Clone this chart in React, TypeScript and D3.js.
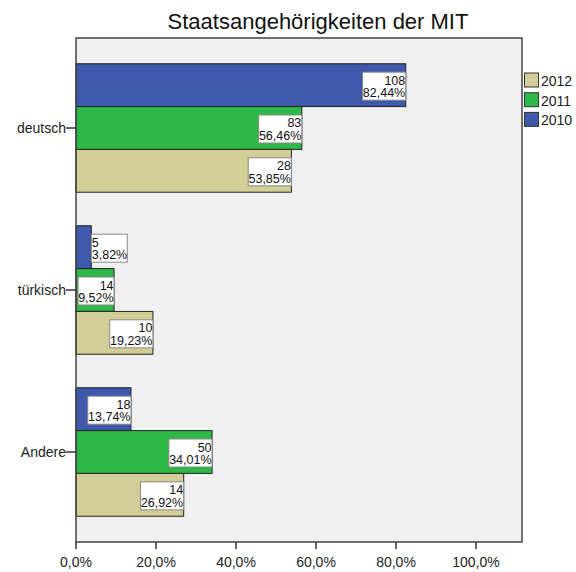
import { useEffect, useRef } from "react";
import * as d3 from "d3";

// Kategorien (von oben nach unten) und Jahre (Reihenfolge im Balkenbündel)
const categories = ["deutsch", "türkisch", "Andere"];
const years = ["2010", "2011", "2012"];
const legendYears = ["2012", "2011", "2010"];
const yearColors: Record<string, string> = { "2010": "#3e58ac", "2011": "#2eb848", "2012": "#d3ce97" };

// Anteile in % und Anzahlen je Jahr
const pct2010 = [82.44, 3.82, 13.74];
const pct2011 = [56.46, 9.52, 34.01];
const pct2012 = [53.85, 19.23, 26.92];
const count2010 = [108, 5, 18];
const count2011 = [83, 14, 50];
const count2012 = [28, 10, 14];
const xTicks = [0, 20, 40, 60, 80, 100];

const pctByYear: Record<string, number[]> = { "2010": pct2010, "2011": pct2011, "2012": pct2012 };
const countByYear: Record<string, number[]> = { "2010": count2010, "2011": count2011, "2012": count2012 };

const W = 576;
const H = 572;
const FONT = "Arial, 'Liberation Sans', sans-serif";

export default function App() {
  const svgRef = useRef<SVGSVGElement | null>(null);

  useEffect(() => {
    if (!svgRef.current) return;
    const svg = d3.select(svgRef.current);
    svg.selectAll("*").remove();

    const left = 76, right = 522, top = 38, bottom = 542;

    const x = d3.scaleLinear().domain([0, 111.5]).range([left, right]);
    const y = d3.scaleBand<string>().domain(categories).range([top, bottom])
      .paddingInner(0.207).paddingOuter(0.159);
    const yInner = d3.scaleBand<string>().domain(years).range([0, y.bandwidth()]);

    // Titel
    svg.append("text")
      .attr("x", 318).attr("y", 29)
      .attr("text-anchor", "middle")
      .style("font-family", FONT).style("font-size", "22px").style("fill", "#111")
      .text("Staatsangehörigkeiten der MIT");

    // Hintergrund
    svg.append("rect")
      .attr("x", left).attr("y", top)
      .attr("width", right - left).attr("height", bottom - top)
      .attr("fill", "#f0f0f0");

    const defs = svg.append("defs");

    // Balken
    categories.forEach((cat, ci) => {
      years.forEach(yr => {
        const v = pctByYear[yr][ci];
        const by = (y(cat) || 0) + (yInner(yr) || 0);
        const bh = yInner.bandwidth();
        svg.append("rect")
          .attr("x", x(0)).attr("y", by)
          .attr("width", x(v) - x(0)).attr("height", bh)
          .attr("fill", yearColors[yr])
          .attr("stroke", "#222").attr("stroke-width", 1);
      });
    });

    // Beschriftungen
    let clipId = 0;
    categories.forEach((cat, ci) => {
      years.forEach(yr => {
        const v = pctByYear[yr][ci];
        const pctText = d3.format(".2f")(v).replace(".", ",") + "%";
        const cntText = String(countByYear[yr][ci]);
        const by = (y(cat) || 0) + (yInner(yr) || 0);
        const bh = yInner.bandwidth();
        const bw = pctText.length * 7.2;
        const bxEnd = x(v);
        const inside = bxEnd - bw >= left;
        const boxX = inside ? bxEnd - bw : bxEnd;
        const boxH = 28;
        const boxY = by + bh / 2 - boxH / 2 + 1;
        const id = `lbl${clipId++}`;
        defs.append("clipPath").attr("id", id)
          .append("rect").attr("x", boxX).attr("y", boxY).attr("width", bw).attr("height", boxH);
        svg.append("rect")
          .attr("x", boxX).attr("y", boxY).attr("width", bw).attr("height", boxH)
          .attr("fill", "#fff").attr("stroke", "#888").attr("stroke-width", 1);
        const g = svg.append("g").attr("clip-path", `url(#${id})`);
        const tx = inside ? boxX + bw - 0.5 : boxX + 0.5;
        const anchor = inside ? "end" : "start";
        g.append("text")
          .attr("x", tx).attr("y", boxY + 12.5)
          .attr("text-anchor", anchor)
          .style("font-family", FONT).style("font-size", "12.5px").style("fill", "#111")
          .text(cntText);
        g.append("text")
          .attr("x", tx).attr("y", boxY + 25)
          .attr("text-anchor", anchor)
          .style("font-family", FONT).style("font-size", "12.5px").style("fill", "#111")
          .text(pctText);
      });
    });

    // Rahmen
    svg.append("rect")
      .attr("x", left).attr("y", top)
      .attr("width", right - left).attr("height", bottom - top)
      .attr("fill", "none").attr("stroke", "#444").attr("stroke-width", 1.5);

    // X-Achse
    xTicks.forEach(t => {
      svg.append("line")
        .attr("x1", x(t)).attr("x2", x(t)).attr("y1", bottom).attr("y2", bottom + 7)
        .attr("stroke", "#333").attr("stroke-width", 1.5);
      svg.append("text")
        .attr("x", x(t)).attr("y", 567)
        .attr("text-anchor", "middle")
        .style("font-family", FONT).style("font-size", "14px").style("fill", "#222")
        .text(d3.format(".1f")(t).replace(".", ",") + "%");
    });

    // Y-Achse
    categories.forEach(cat => {
      const cy = (y(cat) || 0) + y.bandwidth() / 2;
      svg.append("line")
        .attr("x1", left - 10).attr("x2", left).attr("y1", cy).attr("y2", cy)
        .attr("stroke", "#333").attr("stroke-width", 1.5);
      svg.append("text")
        .attr("x", left - 10).attr("y", cy + 5)
        .attr("text-anchor", "end")
        .style("font-family", FONT).style("font-size", "14px").style("fill", "#222")
        .text(cat);
    });

    // Legende
    legendYears.forEach((yr, i) => {
      const ly = 73 + i * 19.7;
      svg.append("rect")
        .attr("x", 524.5).attr("y", ly).attr("width", 14).attr("height", 14)
        .attr("fill", yearColors[yr]).attr("stroke", "#333").attr("stroke-width", 1);
      svg.append("text")
        .attr("x", 541).attr("y", ly + 13)
        .style("font-family", FONT).style("font-size", "14px").style("fill", "#222")
        .text(yr);
    });
  }, []);

  return <svg ref={svgRef} width={W} height={H} style={{ display: "block", position: "absolute", left: 0, top: 0, background: "#fff" }} />;
}
